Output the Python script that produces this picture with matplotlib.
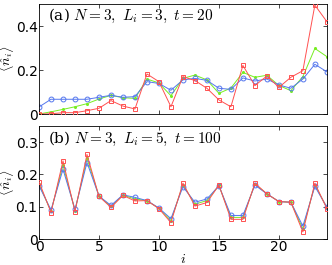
import numpy as np
import matplotlib
matplotlib.use("Agg")
from matplotlib import pyplot as plt

plt.rcParams['mathtext.fontset'] = 'cm'
plt.rcParams['font.family'] = 'DejaVu Sans'

site = np.arange(25)

# panel (a): N=3, L_i=3, t=20
a_red = [0.0, 0.001, 0.006, 0.006, 0.015, 0.026, 0.061, 0.036, 0.023, 0.182, 0.147,
         0.033, 0.170, 0.152, 0.117, 0.064, 0.033, 0.221, 0.129, 0.173, 0.121, 0.167,
         0.197, 0.495, 0.420]
a_green = [0.0, 0.010, 0.021, 0.033, 0.047, 0.068, 0.085, 0.074, 0.071, 0.159, 0.141,
           0.083, 0.162, 0.177, 0.155, 0.094, 0.118, 0.189, 0.167, 0.176, 0.130, 0.106,
           0.170, 0.298, 0.261]
a_blue = [0.032, 0.067, 0.067, 0.067, 0.067, 0.076, 0.085, 0.076, 0.079, 0.147, 0.139,
          0.108, 0.155, 0.162, 0.153, 0.117, 0.112, 0.164, 0.150, 0.159, 0.132, 0.117,
          0.159, 0.226, 0.192]

# panel (b): N=3, L_i=5, t=100
b_red = [0.178, 0.082, 0.242, 0.085, 0.262, 0.132, 0.098, 0.135, 0.118, 0.119, 0.094,
         0.051, 0.173, 0.102, 0.113, 0.167, 0.061, 0.061, 0.173, 0.140, 0.116, 0.114,
         0.022, 0.173, 0.094]
b_green = [0.170, 0.086, 0.229, 0.088, 0.250, 0.133, 0.101, 0.136, 0.124, 0.119, 0.095,
           0.057, 0.168, 0.108, 0.119, 0.166, 0.067, 0.067, 0.170, 0.140, 0.116, 0.114,
           0.031, 0.168, 0.097]
b_blue = [0.165, 0.090, 0.216, 0.092, 0.237, 0.133, 0.104, 0.137, 0.129, 0.119, 0.096,
          0.063, 0.162, 0.114, 0.124, 0.165, 0.073, 0.073, 0.167, 0.140, 0.116, 0.114,
          0.040, 0.163, 0.099]

red = '#ff5050'
green = '#77ee22'
blue = '#5577ee'

fig = plt.figure(figsize=(3.32, 2.65), dpi=100)
ax1 = fig.add_axes([0.1175, 0.5698, 0.867, 0.415])
ax2 = fig.add_axes([0.1175, 0.098, 0.867, 0.4264])

def cizim(ax, r, g, b):
    ax.plot(site, r, color=red, lw=0.7, marker='s', ms=3.5, mfc='none', mew=0.7, zorder=3)
    ax.plot(site, g, color=green, lw=0.7, marker='o', ms=2.2, mfc=green, mew=0, zorder=2)
    ax.plot(site, b, color=blue, lw=0.7, marker='o', ms=3.5, mfc='none', mew=0.7, zorder=2)
    ax.set_xlim(0, 24)
    ax.set_xticks([0, 5, 10, 15, 20])
    ax.tick_params(direction='in', top=True, right=True, length=3, width=0.5, labelsize=10, pad=1)
    for s in ax.spines.values():
        s.set_linewidth(0.6)
    ax.set_ylabel(r'$\langle \hat{n}_i \rangle$', fontsize=10)
    ax.yaxis.set_label_coords(-0.08, 0.5)

cizim(ax1, a_red, a_green, a_blue)
ax1.set_ylim(0, 0.5)
ax1.set_yticks([0, 0.2, 0.4])
ax1.set_yticklabels(['0', '0.2', '0.4'])
ax1.set_xticklabels([])
ax1.text(0.03, 0.89, r'(a) $N=3,\ L_i=3,\ t=20$', transform=ax1.transAxes,
         fontsize=11, family='DejaVu Serif', va='center', ha='left')

cizim(ax2, b_red, b_green, b_blue)
ax2.set_ylim(0, 0.35)
ax2.set_yticks([0, 0.1, 0.2, 0.3])
ax2.set_yticklabels(['0', '0.1', '0.2', '0.3'])
ax2.set_xlabel(r'$i$', fontsize=10)
ax2.xaxis.set_label_coords(0.5, -0.115)
ax2.text(0.03, 0.89, r'(b) $N=3,\ L_i=5,\ t=100$', transform=ax2.transAxes,
         fontsize=11, family='DejaVu Serif', va='center', ha='left')

fig.savefig('out.png', dpi=100)
